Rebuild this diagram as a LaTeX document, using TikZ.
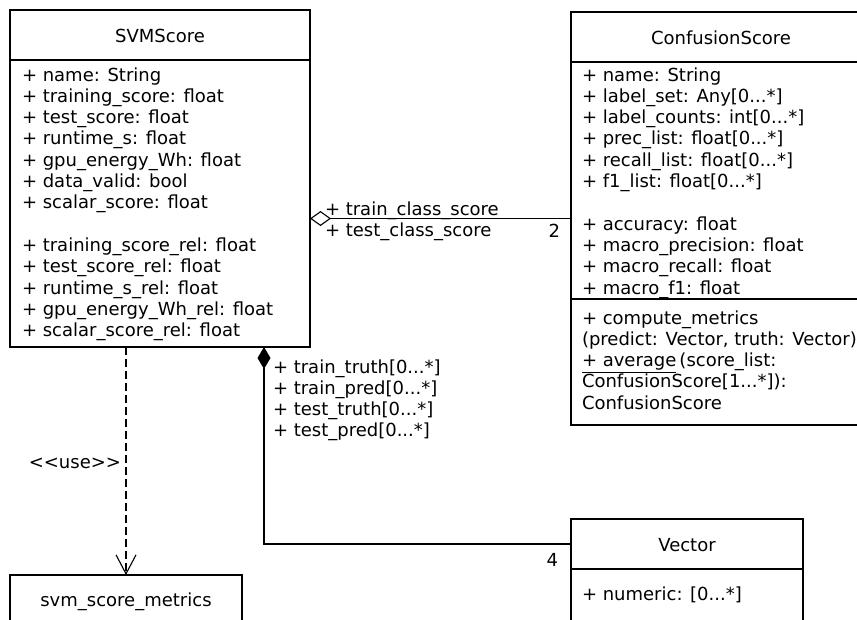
\documentclass[tikz,border=0pt]{standalone}
\usepackage{fontspec}
\setmainfont{DejaVu Sans}
\usetikzlibrary{arrows.meta,calc}
% three full stops as written in the multiplicities
\newcommand{\threedots}{...}

\begin{document}
\begin{tikzpicture}[x=1pt,y=-1pt,line width=1.1pt,
  every node/.style={inner sep=0pt,outer sep=0pt,font=\fontsize{18}{21.3}\selectfont},
  umlbox/.style={draw,anchor=north west,minimum width=#1},
  txt/.style={anchor=base west},
  ttl/.style={anchor=base},
  opendia/.style={{Diamond[open,length=21pt,width=15pt]}-},
  filldia/.style={{Diamond[length=22pt,width=13pt]}-},
  usearrow/.style={dash pattern=on 8pt off 4pt,-{Straight Barb[length=19pt,width=20pt]}}]

\useasboundingbox (0,0) rectangle (857,619);

% ---- SVMScore ----
\node[umlbox=300pt,minimum height=337pt] (svm) at (10,10) {};
\draw (svm.north west) ++(0,50) -- ++(300,0);
\node[ttl] (svmname) at (160,42) {SVMScore};
\foreach \t [count=\i from 0] in {%
  {+ name: String},
  {+ training\_score: float},
  {+ test\_score: float},
  {+ runtime\_s: float},
  {+ gpu\_energy\_Wh: float},
  {+ data\_valid: bool},
  {+ scalar\_score: float},
  {},
  {+ training\_score\_rel: float},
  {+ test\_score\_rel: float},
  {+ runtime\_s\_rel: float},
  {+ gpu\_energy\_Wh\_rel: float},
  {+ scalar\_score\_rel: float}}
  \node[txt] (svma\i) at (22,81+21.3*\i) {\t};

% ---- ConfusionScore ----
\node[umlbox=300pt,minimum height=413pt] (conf) at (571,12) {};
\draw (conf.north west) ++(0,50) -- ++(300,0);
\draw (conf.north west) ++(0,287) -- ++(300,0);
\node[ttl] (confname) at (721,44) {ConfusionScore};
\foreach \t [count=\i from 0] in {%
  {+ name: String},
  {+ label\_set: Any[0\threedots*]},
  {+ label\_counts: int[0\threedots*]},
  {+ prec\_list: float[0\threedots*]},
  {+ recall\_list: float[0\threedots*]},
  {+ f1\_list: float[0\threedots*]},
  {},
  {+ accuracy: float},
  {+ macro\_precision: float},
  {+ macro\_recall: float},
  {+ macro\_f1: float}}
  \node[txt] (confa\i) at (582,81+21.3*\i) {\t};
\foreach \t [count=\i from 0] in {%
  {+ compute\_metrics},
  {(predict: Vector, truth: Vector)},
  {\underline{+ average}\,(score\_list:},
  {ConfusionScore[1\threedots*]):},
  {ConfusionScore}}
  \node[txt] (confo\i) at (582,324+21.3*\i) {\t};

% ---- Vector ----
\node[umlbox=232pt,minimum height=50pt] (vtitle) at (571,519) {};
\node[umlbox=232pt,minimum height=70pt] (vattr) at (571,569) {};
\node[ttl] (vname) at (vtitle.center |- 0,551) {Vector};
\node[txt] (va0) at (582,600) {+ numeric: [0\threedots*]};

% ---- svm_score_metrics ----
\node[umlbox=232pt,minimum height=70pt] (metrics) at (10,575) {};
\node[ttl] (mname) at (126,606) {svm\_score\_metrics};

% ---- aggregation SVMScore <>-- ConfusionScore ----
\draw[opendia] (svm.east |- conf.west) -- (conf.west);
\node[txt] (agg1) at (325,215) {+ train\_class\_score};
\node[txt] (agg2) at (325,236.3) {+ test\_class\_score};
\node[anchor=base east] (aggm) at (560,237) {2};

% ---- composition SVMScore <#>-- Vector ----
\draw[filldia] ($(svm.south west)+(254,0)$) |- (vtitle.west);
\foreach \t [count=\i from 0] in {%
  {+ train\_truth[0\threedots*]},
  {+ train\_pred[0\threedots*]},
  {+ test\_truth[0\threedots*]},
  {+ test\_pred[0\threedots*]}}
  \node[txt] (comp\i) at (273,373+21.3*\i) {\t};
\node[anchor=base east] (compm) at (558,566) {4};

% ---- dependency SVMScore - - -> svm_score_metrics ----
\draw[usearrow] (svm.south -| metrics.north) -- (metrics.north);
\node[anchor=base east] (uselbl) at (121,468) {<\kern0pt<use>\kern0pt>};

\end{tikzpicture}
\end{document}
